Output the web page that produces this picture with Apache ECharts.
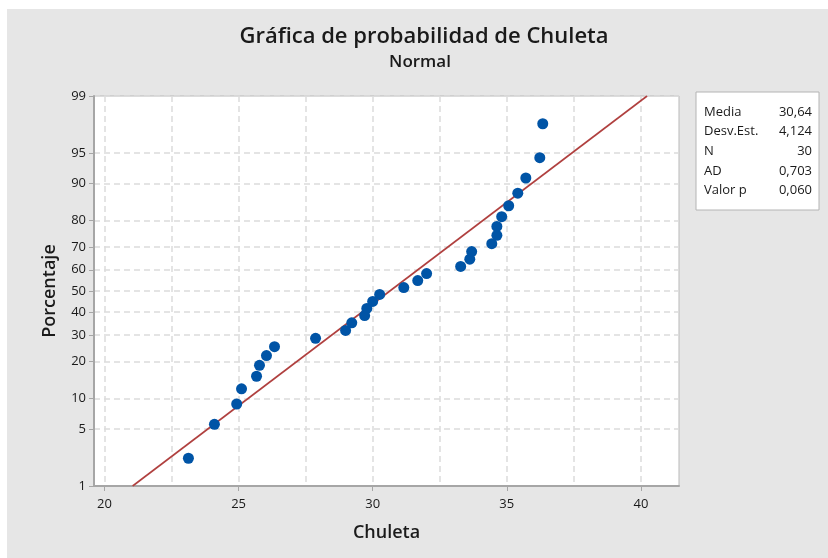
<!DOCTYPE html>
<html lang="es">
<head>
<meta charset="utf-8">
<title>Gráfica de probabilidad de Chuleta</title>
<script src="https://cdn.jsdelivr.net/npm/echarts@6/dist/echarts.min.js"></script>
<style>
  body { margin: 0; background: #ffffff; }
  #chart { width: 828px; height: 558px; }
</style>
</head>
<body>
<div id="chart"></div>
<script type="text/javascript">
  let chuleta = [23.13, 24.10, 24.93, 25.11, 25.67, 25.78, 26.04, 26.34, 27.87, 28.99,
                 29.22, 29.70, 29.78, 30.00, 30.26, 31.16, 31.68, 32.01, 33.28, 33.62,
                 33.69, 34.44, 34.63, 34.63, 34.81, 35.07, 35.41, 35.71, 36.23, 36.34];
  // plotted percent for each point
  let porcentaje = [2.30, 5.59, 8.88, 12.17, 15.46, 18.75, 22.04, 25.33, 28.62, 31.91,
                    35.20, 38.49, 41.78, 45.07, 48.36, 51.64, 54.93, 58.22, 61.51, 64.80,
                    68.09, 71.38, 74.67, 77.96, 81.25, 84.54, 87.83, 91.12, 94.41, 97.70];
  // fitted line end points
  let lineX = [21.05, 40.23];
  let lineP = [1, 99];
  // axis ticks
  let yTicks = [1, 5, 10, 20, 30, 40, 50, 60, 70, 80, 90, 95, 99];
  let xTicks = [20, 25, 30, 35, 40];
  let xGrid = [20, 22.5, 25, 27.5, 30, 32.5, 35, 37.5, 40];
  // stats table
  let statNames = ['Media', 'Desv.Est.', 'N', 'AD', 'Valor p'];
  let statValues = ['30,64', '4,124', '30', '0,703', '0,060'];

  // inverse normal cdf (Acklam), used as the probability scale
  function probit(p) {
    let a = [-39.69683028665376, 220.9460984245205, -275.9285104469687, 138.3577518672690, -30.66479806614716, 2.506628277459239];
    let b = [-54.47609879822406, 161.5858368580409, -155.6989798598866, 66.80131188771972, -13.28068155288572];
    let c = [-0.007784894002430293, -0.3223964580411365, -2.400758277161838, -2.549732539343734, 4.374664141464968, 2.938163982698783];
    let d = [0.007784695709041462, 0.3224671290700398, 2.445134137142996, 3.754408661907416];
    let pl = 0.02425, q, r;
    if (p < pl) {
      q = Math.sqrt(-2 * Math.log(p));
      return (((((c[0]*q+c[1])*q+c[2])*q+c[3])*q+c[4])*q+c[5]) / ((((d[0]*q+d[1])*q+d[2])*q+d[3])*q+1);
    }
    if (p > 1 - pl) {
      q = Math.sqrt(-2 * Math.log(1 - p));
      return -(((((c[0]*q+c[1])*q+c[2])*q+c[3])*q+c[4])*q+c[5]) / ((((d[0]*q+d[1])*q+d[2])*q+d[3])*q+1);
    }
    q = p - 0.5; r = q * q;
    return (((((a[0]*r+a[1])*r+a[2])*r+a[3])*r+a[4])*r+a[5])*q / (((((b[0]*r+b[1])*r+b[2])*r+b[3])*r+b[4])*r+1);
  }

  let yTickZ = yTicks.map((p) => probit(p / 100));
  let points = chuleta.map((x, i) => [x, probit(porcentaje[i] / 100)]);
  let fitLine = lineX.map((x, i) => [x, probit(lineP[i] / 100)]);

  let font = 'Open Sans';
  let txt = '#1a1a1a';

  let legendChildren = [{
    type: 'rect',
    shape: { x: 696, y: 92, width: 123, height: 118 },
    style: { fill: '#ffffff', stroke: '#b4b4b4', lineWidth: 1 }
  }];
  statNames.forEach((n, i) => {
    legendChildren.push({
      type: 'text', x: 704, y: 112 + i * 19.6,
      style: { text: n, font: '13px "' + font + '"', fill: txt, verticalAlign: 'middle' }
    });
    legendChildren.push({
      type: 'text', x: 812, y: 112 + i * 19.6,
      style: { text: statValues[i], font: '13px "' + font + '"', fill: txt, align: 'right', verticalAlign: 'middle' }
    });
  });

  let Chart = echarts.init(document.getElementById('chart'));

  let option = {
    animation: false,
    backgroundColor: '#ffffff',
    textStyle: { fontFamily: font },
    grid: {
      left: 94, right: 149, top: 96, bottom: 72,
      show: true, backgroundColor: '#ffffff', borderColor: '#b9b9b9', borderWidth: 1
    },
    graphic: [
      {
        type: 'rect', z: -10, silent: true,
        shape: { x: 7, y: 9, width: 821, height: 549 },
        style: { fill: '#e6e6e6' }
      },
      {
        type: 'text', x: 424, y: 37,
        style: { text: 'Gráfica de probabilidad de Chuleta', font: '600 22px "' + font + '"', fill: txt, align: 'center', verticalAlign: 'middle' }
      },
      {
        type: 'text', x: 420, y: 62,
        style: { text: 'Normal', font: '600 17px "' + font + '"', fill: txt, align: 'center', verticalAlign: 'middle' }
      },
      { type: 'group', children: legendChildren }
    ],
    xAxis: [
      {
        type: 'value', min: 19.61, max: 41.42,
        name: 'Chuleta', nameLocation: 'middle', nameGap: 38,
        nameTextStyle: { fontSize: 18, fontWeight: 600, color: txt, fontFamily: font },
        axisLine: { show: true, onZero: false, lineStyle: { color: '#a6a6a6', width: 2 } },
        axisTick: { show: true, length: 5, customValues: xTicks, lineStyle: { color: '#a6a6a6' } },
        axisLabel: { customValues: xTicks, margin: 12, fontSize: 13, color: txt, fontFamily: font },
        splitLine: { show: false }
      },
      {
        type: 'value', min: 19.61, max: 41.42, position: 'top',
        axisLine: { show: false, onZero: false },
        axisTick: { show: false, customValues: xGrid },
        axisLabel: { show: false, customValues: xGrid },
        splitLine: { show: true, lineStyle: { color: '#dcdcdc', type: [6, 4], width: 1.5 } }
      }
    ],
    yAxis: {
      type: 'value', min: probit(0.01), max: probit(0.99),
      name: 'Porcentaje', nameLocation: 'middle', nameGap: 35,
      nameTextStyle: { fontSize: 18, fontWeight: 600, color: txt, fontFamily: font },
      axisLine: { show: true, onZero: false, lineStyle: { color: '#a6a6a6', width: 2 } },
      axisTick: { show: true, length: 5, customValues: yTickZ, lineStyle: { color: '#a6a6a6' } },
      axisLabel: {
        customValues: yTickZ, margin: 8, fontSize: 13, color: txt, fontFamily: font,
        formatter: function (v) {
          let best = 0;
          yTickZ.forEach((z, i) => { if (Math.abs(z - v) < Math.abs(yTickZ[best] - v)) best = i; });
          return String(yTicks[best]);
        }
      },
      splitLine: { show: true, lineStyle: { color: '#dcdcdc', type: [6, 4], width: 1.5 } }
    },
    series: [
      {
        name: 'Ajuste',
        type: 'line',
        data: fitLine,
        symbol: 'none',
        lineStyle: { color: '#b0403f', width: 1.6 },
        z: 2
      },
      {
        name: 'Chuleta',
        type: 'scatter',
        data: points,
        symbol: 'circle',
        symbolSize: 11,
        itemStyle: { color: '#0054a6', opacity: 1 },
        z: 3
      }
    ]
  };

  Chart.setOption(option);
</script>
</body>
</html>
